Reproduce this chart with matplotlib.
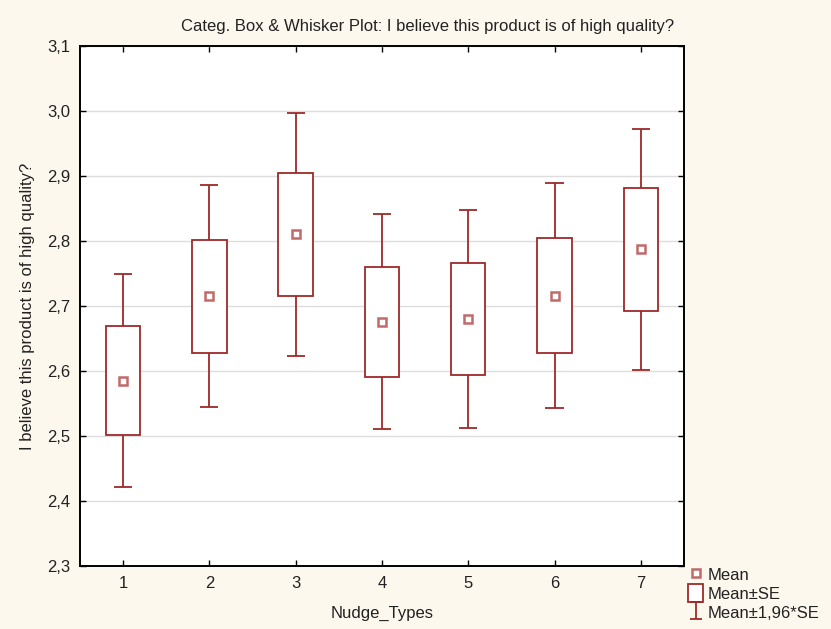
import numpy as np
import matplotlib
matplotlib.use("Agg")
import matplotlib.pyplot as plt
from matplotlib.lines import Line2D
from matplotlib.patches import Rectangle

categories = [1, 2, 3, 4, 5, 6, 7]
means = [2.585, 2.715, 2.810, 2.676, 2.680, 2.716, 2.787]
se = [0.0835, 0.087, 0.095, 0.0845, 0.0855, 0.088, 0.0945]
yticks = [2.3, 2.4, 2.5, 2.6, 2.7, 2.8, 2.9, 3.0, 3.1]

RED = "#9e2a2a"
MEAN_COL = "#c06a6a"
BG = "#fdf8ee"

plt.rcParams["font.family"] = ["Liberation Sans", "DejaVu Sans"]

fig = plt.figure(figsize=(8.31, 6.29), dpi=100, facecolor=BG)
ax = fig.add_axes([0.0963, 0.1002, 0.7267, 0.8267])
ax.set_facecolor("white")

m = np.array(means)
s = np.array(se)
x = np.array(categories)
bw = 0.4
cw = 0.21

# whiskers (mean +/- 1.96*SE)
ax.vlines(x, m - 1.96 * s, m - s, color=RED, lw=1.3, zorder=3)
ax.vlines(x, m + s, m + 1.96 * s, color=RED, lw=1.3, zorder=3)
ax.hlines(m - 1.96 * s, x - cw / 2, x + cw / 2, color=RED, lw=1.3, zorder=3)
ax.hlines(m + 1.96 * s, x - cw / 2, x + cw / 2, color=RED, lw=1.3, zorder=3)

# boxes (mean +/- SE)
for xi, mi, si in zip(x, m, s):
    ax.add_patch(Rectangle((xi - bw / 2, mi - si), bw, 2 * si, facecolor="white",
                           edgecolor=RED, lw=1.3, zorder=3))

# means
ax.plot(x, m, ls="none", marker="s", ms=5.5, mfc="white", mec=MEAN_COL, mew=1.8, zorder=4)

ax.set_xlim(0.5, 7.5)
ax.set_ylim(2.3, 3.1)
ax.set_xticks(categories)
ax.set_xticklabels([str(c) for c in categories])
ax.set_yticks(yticks)
ax.set_yticklabels([f"{v:.1f}".replace(".", ",") for v in yticks])
ax.grid(axis="y", color="#dddddd", lw=1.0, zorder=0)
ax.set_axisbelow(True)
ax.tick_params(direction="in", top=True, right=True, length=4, width=1, labelsize=12,
               colors="black", labelcolor="#222222", pad=7)
for sp in ax.spines.values():
    sp.set_linewidth(1.4)

ax.set_xlabel("Nudge_Types", fontsize=12, labelpad=11, color="#222222")
ax.set_ylabel("I believe this product is of high quality?", fontsize=12, labelpad=9,
              color="#222222")
fig.text(0.514, 0.958, "Categ. Box & Whisker Plot: I believe this product is of high quality?",
         ha="center", va="center", fontsize=12, color="#222222")

# legend
h_mean = Line2D([], [], ls="none", marker="s", ms=5.5, mfc="white", mec=MEAN_COL, mew=1.8)
h_box = Rectangle((0, 0), 1, 1, facecolor="white", edgecolor=RED, lw=1.3)
h_eb = ax.errorbar([np.nan], [np.nan], yerr=[1], fmt="none", ecolor=RED, elinewidth=1.3,
                   capsize=4, capthick=1.3)
fig.legend([h_mean, h_box, h_eb], ["Mean", "Mean±SE", "Mean±1,96*SE"],
           loc="upper left", bbox_to_anchor=(0.826, 0.104), frameon=False, fontsize=12,
           handlelength=0.9, handleheight=1.3, handletextpad=0.3, labelspacing=0.05,
           borderpad=0.1, borderaxespad=0, labelcolor="#222222")

fig.savefig("out.png", dpi=100, facecolor=BG)
